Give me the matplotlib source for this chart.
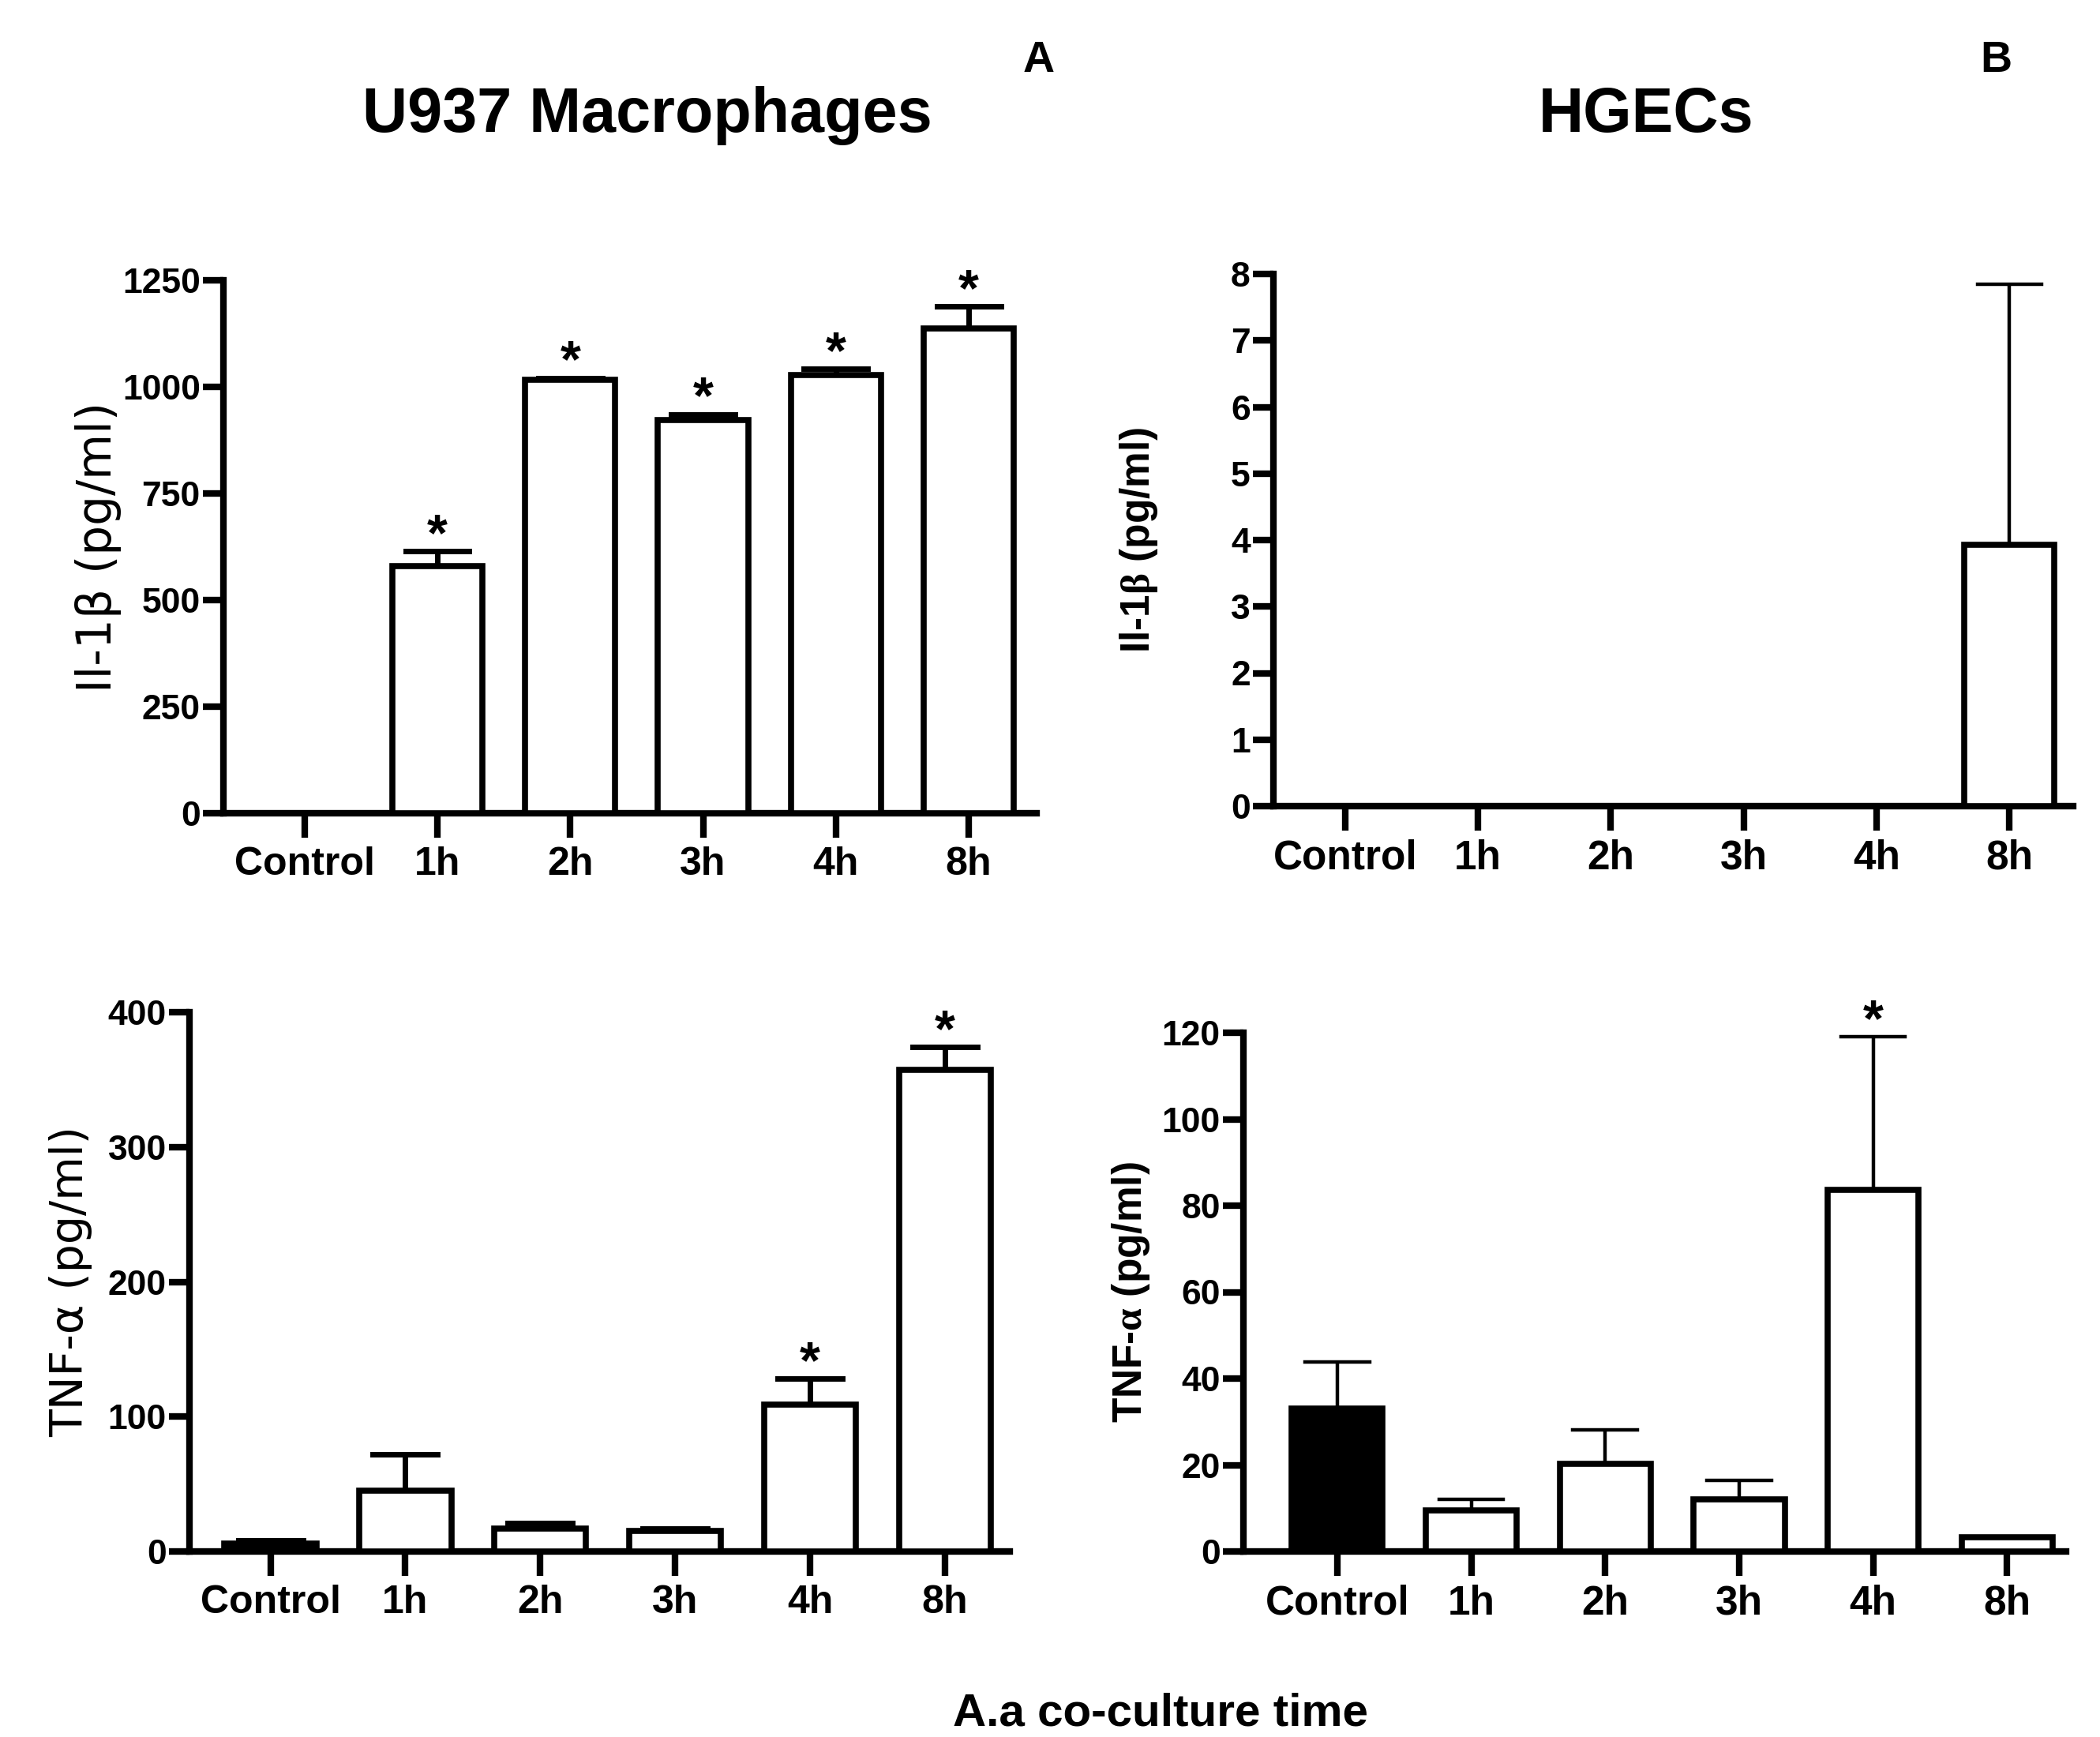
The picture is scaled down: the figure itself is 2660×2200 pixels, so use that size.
import matplotlib.pyplot as plt

plt.rcParams['font.family'] = ['Liberation Sans', 'DejaVu Sans']
plt.rcParams['font.weight'] = 'bold'
plt.rcParams['mathtext.fontset'] = 'custom'
plt.rcParams['mathtext.rm'] = 'Liberation Serif'
plt.rcParams['mathtext.it'] = 'Liberation Serif'

groups = ["Control", "1h", "2h", "3h", "4h", "8h"]

# U937 macrophages, Il-1beta
il1b_u937 = [0, 580, 1017, 922, 1028, 1137]
il1b_u937_err = [0, 34, 4, 14, 14, 51]
il1b_u937_sig = [False, True, True, True, True, True]

# HGECs, Il-1beta
il1b_hgec = [0, 0, 0, 0, 0, 3.93]
il1b_hgec_err = [0, 0, 0, 0, 0, 3.92]
il1b_hgec_sig = [False, False, False, False, False, False]

# U937 macrophages, TNF-alpha
tnf_u937 = [6, 45, 17, 15, 109, 357]
tnf_u937_err = [2, 27, 4, 2, 19, 17]
tnf_u937_sig = [False, False, False, False, True, True]

# HGECs, TNF-alpha
tnf_hgec = [33, 9.5, 20.3, 12, 83.7, 3.3]
tnf_hgec_err = [10.8, 2.6, 7.8, 4.4, 35.3, 0]
tnf_hgec_sig = [False, False, False, False, True, False]

W, H = 2660, 2200
fig = plt.figure(figsize=(W / 100, H / 100), dpi=100)


def px_axes(left, top, right, bottom):
    return fig.add_axes([left / W, 1 - bottom / H, (right - left) / W, (bottom - top) / H])


def panel(ax, vals, errs, sig, ymax, step, ylabel, xlim, ylab_x,
          err_lw=5.0, xfs=36, ylab_kw=None):
    x = list(range(len(groups)))
    colors = ['black'] + ['white'] * (len(groups) - 1)
    ax.bar(x, vals, width=0.68, color=colors, edgecolor='black', linewidth=5.5, zorder=3)
    for xi, v, e, s in zip(x, vals, errs, sig):
        if e > 0:
            ax.plot([xi, xi], [v, v + e], color='black', lw=err_lw, zorder=2, solid_capstyle='butt')
            ax.plot([xi - 0.24, xi + 0.24], [v + e, v + e], color='black', lw=err_lw, zorder=2)
        if s:
            ax.annotate('*', (xi, v + e), xytext=(0, 1), textcoords='offset points',
                        ha='center', va='baseline', fontsize=48, fontweight='bold')
    ax.set_xlim(*xlim)
    ax.set_ylim(0, ymax)
    ticks = [i * step for i in range(int(round(ymax / step)) + 1)]
    ax.set_yticks(ticks)
    ax.set_yticklabels([f"{t:g}" for t in ticks], fontsize=32, fontweight='bold')
    ax.set_xticks(x)
    ax.set_xticklabels(groups, fontsize=xfs, fontweight='bold')
    for sp in ['top', 'right']:
        ax.spines[sp].set_visible(False)
    for sp in ['left', 'bottom']:
        ax.spines[sp].set_linewidth(6)
    ax.tick_params(axis='y', length=19, width=6, pad=2)
    ax.tick_params(axis='x', length=22, width=6, pad=8)
    ax.set_ylabel(ylabel, **(ylab_kw or {}))
    ax.yaxis.set_label_coords(ylab_x, 0.5)


left_lab = dict(fontsize=43, fontweight='normal', family='DejaVu Sans')
right_lab = dict(fontsize=37, fontweight='bold')

ax1 = px_axes(283, 355, 1313, 1030)
panel(ax1, il1b_u937, il1b_u937_err, il1b_u937_sig, 1250, 250, 'Il-1β (pg/ml)',
      (-0.61, 5.51), -0.125, ylab_kw=left_lab)

ax2 = px_axes(1613, 347, 2626, 1021)
panel(ax2, il1b_hgec, il1b_hgec_err, il1b_hgec_sig, 8, 1, r'Il-1$\beta$ (pg/ml)',
      (-0.54, 5.48), -0.142, err_lw=3.2, xfs=37, ylab_kw=right_lab)

ax3 = px_axes(240, 1282, 1279, 1965)
panel(ax3, tnf_u937, tnf_u937_err, tnf_u937_sig, 400, 100, 'TNF-α (pg/ml)',
      (-0.6, 5.48), -0.118, ylab_kw=dict(left_lab, fontsize=41))

ax4 = px_axes(1575, 1308, 2617, 1965)
panel(ax4, tnf_hgec, tnf_hgec_err, tnf_hgec_sig, 120, 20, r'TNF-$\alpha$ (pg/ml)',
      (-0.7, 5.44), -0.111, err_lw=3.2, xfs=37, ylab_kw=right_lab)

fig.text(820 / W, 1 - 146 / H, 'U937 Macrophages', ha='center', va='center', fontsize=57, fontweight='bold')
fig.text(2085 / W, 1 - 146 / H, 'HGECs', ha='center', va='center', fontsize=57, fontweight='bold')
fig.text(1316 / W, 1 - 77 / H, 'A', ha='center', va='center', fontsize=40, fontweight='bold')
fig.text(2528 / W, 1 - 77 / H, 'B', ha='center', va='center', fontsize=40, fontweight='bold')
fig.text(1470 / W, 1 - 2171 / H, 'A.a co-culture time', ha='center', va='center', fontsize=42, fontweight='bold')

fig.savefig('out.png', dpi=100, facecolor='white')
